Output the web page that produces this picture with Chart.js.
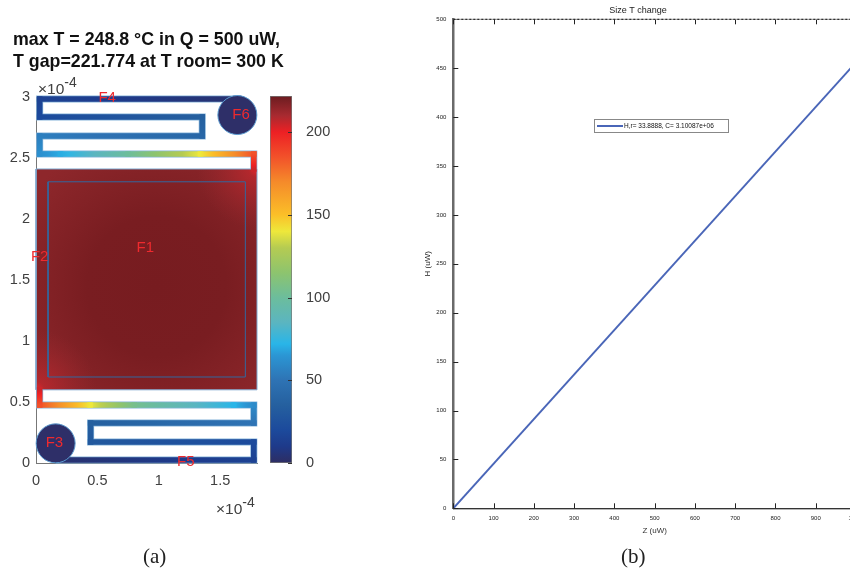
<!DOCTYPE html>
<html>
<head>
<meta charset="utf-8">
<script src="https://cdn.jsdelivr.net/npm/chart.js@4"></script>
<style>
html, body { margin: 0; padding: 0; background: #fff; width: 850px; height: 576px; overflow: hidden; }
canvas { position: absolute; display: block; }
.txt { position: absolute; white-space: nowrap; }
.head { font: bold 17.8px "Liberation Sans"; color: #111; left: 13px; filter: blur(0.3px); }
.mult { font: 15.5px "Liberation Sans"; color: #404040; filter: blur(0.3px); }
.mult sup { font-size: 14px; position: relative; vertical-align: baseline; top: -7px; }
.cap { font: 21px "Liberation Serif"; color: #222; filter: blur(0.3px); }
#fitBox { position: absolute; left: 594px; top: 119px; width: 133px; height: 12px; border: 1.5px dashed #111; outline: 1px solid #888; outline-offset: -1px; background: #fff; filter: blur(0.5px); }
#fitBox i { position: absolute; left: 2px; top: 5px; width: 26px; height: 2px; background: #4a66b8; }
#fitBox span { position: absolute; left: 29px; top: 2px; font: 6.5px "Liberation Sans"; color: #111; white-space: nowrap; }
</style>
</head>
<body>
<div class="txt head" style="top:29px">max T = 248.8 °C in Q = 500 uW,</div>
<div class="txt head" style="top:51px">T gap=221.774 at T room= 300 K</div>

<canvas id="mapChart" style="left:0;top:0;filter:blur(0.35px)" width="265" height="500"></canvas>
<canvas id="barChart" style="left:262px;top:0;filter:blur(0.35px)" width="70" height="480"></canvas>
<canvas id="fitChart" style="left:420px;top:0;filter:blur(0.6px)" width="440" height="536"></canvas>

<div class="txt mult" style="left:38px;top:80px">×10<sup>-4</sup></div>
<div class="txt mult" style="left:216px;top:500px">×10<sup>-4</sup></div>
<div id="fitBox"><i></i><span>H,r= 33.8888, C= 3.10087e+06</span></div>
<div class="txt cap" style="left:143px;top:544px">(a)</div>
<div class="txt cap" style="left:621px;top:544px">(b)</div>

<script>
// Left panel: serpentine heater, x and y in units of 1e-4
var mapXTicks = [0, 0.5, 1, 1.5];
var mapYTicks = [0, 0.5, 1, 1.5, 2, 2.5, 3];

var upperX = [1.67, 0.03, 0.03, 1.354, 1.354, 0.03, 0.03, 0.2, 0.75, 1.34, 1.774, 1.774];
var upperY = [2.984, 2.984, 2.836, 2.836, 2.68, 2.68, 2.533, 2.533, 2.533, 2.533, 2.533, 2.41];
var upperT = [3, 15, 20, 35, 40, 55, 62, 70, 100, 140, 185, 205];

var lowerX = [0.16, 1.774, 1.774, 0.445, 0.445, 1.774, 1.774, 1.61, 0.8, 0.44, 0.03, 0.03];
var lowerY = [0.025, 0.025, 0.172, 0.172, 0.328, 0.328, 0.475, 0.475, 0.475, 0.475, 0.475, 0.6];
var lowerT = [3, 15, 20, 30, 35, 50, 60, 72, 105, 140, 185, 205];

var padX = [0, 1.8];
var padTop = [2.41, 2.41];
var padBottom = 0.6;
var padOutlineX = [0, 1.8, 1.8, 0, 0];
var padOutlineY = [0.6, 0.6, 2.41, 2.41, 0.6];
var innerX = [0.098, 1.705, 1.705, 0.098, 0.098];
var innerY = [0.705, 0.705, 2.305, 2.305, 0.705];

var contactX = [0.16, 1.64];
var contactY = [0.161, 2.852];

var faceNames = ['F1', 'F2', 'F3', 'F4', 'F5', 'F6'];
var faceX = [0.89, 0.03, 0.15, 0.58, 1.22, 1.67];
var faceY = [1.76, 1.69, 0.164, 2.99, 0.01, 2.852];

// Colorbar
var barTicks = [0, 50, 100, 150, 200];
var barRange = [0, 221.8];
var colorTemps = [0, 10, 20, 35, 50, 65, 72, 85, 100, 115, 130, 140, 150, 170, 185, 200, 210, 221.8];
var colorValues = ['#2e2d62', '#1e3a8a', '#1c4a9c', '#25609f', '#2e73b4', '#2b96d4', '#29b5e8', '#5bb5c0', '#6cbd9c', '#8dc46e', '#b5cb52', '#eee83b', '#fbbf28', '#f58a2a', '#f2512a', '#ed2024', '#a82a30', '#6b1c20'];

// Right panel
var fitXTicks = [0, 100, 200, 300, 400, 500, 600, 700, 800, 900, 1000];
var fitYTicks = [0, 50, 100, 150, 200, 250, 300, 350, 400, 450, 500];
var fitX = [0, 1000];
var fitY = [0, 456];

function points(xs, ys) {
    return xs.map(function (x, i) { return { x: x, y: ys[i] }; });
}

function hexToRgb(hex) {
    return [1, 3, 5].map(function (i) { return parseInt(hex.substr(i, 2), 16); });
}

function tempColor(t) {
    for (var i = 1; i < colorTemps.length; i++) {
        if (t <= colorTemps[i]) {
            var f = (t - colorTemps[i - 1]) / (colorTemps[i] - colorTemps[i - 1]);
            var a = hexToRgb(colorValues[i - 1]);
            var b = hexToRgb(colorValues[i]);
            return 'rgb(' + a.map(function (v, k) { return Math.round(v + (b[k] - v) * f); }).join(',') + ')';
        }
    }
    return colorValues[colorValues.length - 1];
}

// gradient along one piece of the trace, from temperature at p0 to temperature at p1
function traceSegment(temps) {
    return function (ctx) {
        var g = ctx.chart.ctx.createLinearGradient(ctx.p0.x, ctx.p0.y, ctx.p1.x, ctx.p1.y);
        var t0 = temps[ctx.p0DataIndex];
        var t1 = temps[ctx.p1DataIndex];
        for (var s = 0; s <= 8; s++) {
            g.addColorStop(s / 8, tempColor(t0 + (t1 - t0) * s / 8));
        }
        return g;
    };
}

function radial(x, y, radius, stops) {
    return function (ctx) {
        var chart = ctx.chart;
        if (!chart.chartArea) return 'transparent';
        var cx = chart.scales.x.getPixelForValue(x);
        var cy = chart.scales.y.getPixelForValue(y);
        var g = chart.ctx.createRadialGradient(cx, cy, 0, cx, cy, radius);
        stops.forEach(function (s) { g.addColorStop(s[0], s[1]); });
        return g;
    };
}

function padLayer(color, order) {
    return {
        data: points(padX, padTop),
        showLine: true,
        borderWidth: 0,
        pointRadius: 0,
        fill: { value: padBottom },
        backgroundColor: color,
        order: order
    };
}

function outline(xs, ys, color, width, order) {
    return {
        data: points(xs, ys),
        showLine: true,
        borderColor: color,
        borderWidth: width,
        pointRadius: 0,
        fill: false,
        clip: false,
        order: order
    };
}

function trace(xs, ys, temps, order) {
    return {
        data: points(xs, ys),
        showLine: true,
        borderWidth: 5.6,
        borderCapStyle: 'square',
        pointRadius: 0,
        fill: false,
        clip: false,
        order: order,
        segment: { borderColor: traceSegment(temps) }
    };
}

function fixedTicks(values) {
    return function (scale) {
        scale.ticks = values.map(function (v) { return { value: v }; });
    };
}

// keep the plot area where it was asked for, tick labels may hang over
function noMargins(scale) {
    scale.paddingLeft = scale.paddingRight = scale.paddingTop = scale.paddingBottom = 0;
}

var faceLabels = {
    id: 'faceLabels',
    afterDraw: function (chart) {
        var c = chart.ctx;
        c.save();
        c.font = '15px "Liberation Sans"';
        c.fillStyle = '#ee2a2e';
        c.textAlign = 'center';
        c.textBaseline = 'middle';
        faceNames.forEach(function (name, i) {
            c.fillText(name, chart.scales.x.getPixelForValue(faceX[i]), chart.scales.y.getPixelForValue(faceY[i]));
        });
        c.restore();
    }
};

// ticks that point into the plot, MATLAB style
var innerTicks = {
    id: 'innerTicks',
    beforeDatasetsDraw: function (chart, args, opts) {
        if (!opts.topFrame) return;
        var c = chart.ctx;
        var a = chart.chartArea;
        c.save();
        c.lineWidth = 1;
        c.strokeStyle = '#c4c4c4';
        c.beginPath();
        c.moveTo(a.left, a.bottom + 1);
        c.lineTo(a.right, a.bottom + 1);
        c.stroke();
        c.restore();
    },
    afterDatasetsDraw: function (chart, args, opts) {
        var c = chart.ctx;
        var a = chart.chartArea;
        c.save();
        c.strokeStyle = opts.color;
        c.lineWidth = 1;
        c.beginPath();
        (opts.ySides || []).forEach(function (side) {
            chart.scales.y.ticks.forEach(function (t) {
                var py = Math.round(chart.scales.y.getPixelForValue(t.value)) + 0.5;
                var edge = side === 'left' ? a.left : a.right;
                c.moveTo(edge, py);
                c.lineTo(side === 'left' ? edge + opts.size : edge - opts.size, py);
            });
        });
        (opts.xSides || []).forEach(function (side) {
            chart.scales.x.ticks.forEach(function (t) {
                var px = Math.round(chart.scales.x.getPixelForValue(t.value)) + 0.5;
                var edge = side === 'top' ? a.top : a.bottom;
                c.moveTo(px, edge);
                c.lineTo(px, side === 'top' ? edge + opts.size : edge - opts.size);
            });
        });
        c.stroke();
        if (opts.topFrame) {
            c.beginPath();
            c.strokeStyle = '#999';
            c.moveTo(a.left, a.top);
            c.lineTo(a.right, a.top);
            c.stroke();
            c.beginPath();
            c.strokeStyle = '#111';
            c.setLineDash([2, 2]);
            c.moveTo(a.left, a.top);
            c.lineTo(a.right, a.top);
            c.stroke();
        }
        c.restore();
    }
};

var tickFont = { family: '"Liberation Sans"', size: 14.5 };

var mapChart = new Chart(document.getElementById('mapChart').getContext('2d'), {
    type: 'scatter',
    data: {
        datasets: [
            padLayer(radial(0.98, 1.45, 155, [[0, '#771c20'], [0.45, '#791d21'], [1, '#8e272b']]), 12),
            padLayer(radial(1.8, 2.41, 60, [[0, 'rgba(238,35,40,1)'], [0.14, 'rgba(195,40,46,0.7)'], [1, 'rgba(160,42,48,0)']]), 11),
            padLayer(radial(0, 0.6, 60, [[0, 'rgba(238,35,40,1)'], [0.14, 'rgba(195,40,46,0.7)'], [1, 'rgba(160,42,48,0)']]), 10),
            outline(padOutlineX, padOutlineY, '#7fa9d0', 1, 9),
            outline(innerX, innerY, '#33689f', 1, 8),
            outline(upperX, upperY, '#86b4da', 7, 7),
            outline(lowerX, lowerY, '#86b4da', 7, 6),
            trace(upperX, upperY, upperT, 5),
            trace(lowerX, lowerY, lowerT, 4),
            {
                data: points(contactX, contactY),
                pointRadius: 19.5,
                pointBackgroundColor: '#2e2f68',
                pointBorderColor: '#5b9bd0',
                pointBorderWidth: 1,
                clip: false,
                order: 1
            }
        ]
    },
    options: {
        responsive: false,
        animation: false,
        layout: { autoPadding: false, padding: { top: 97, right: 8, left: 0, bottom: 0 } },
        plugins: { legend: { display: false }, tooltip: { enabled: false } },
        scales: {
            x: {
                type: 'linear', min: 0, max: 1.8,
                grid: { drawOnChartArea: false, drawTicks: false },
                border: { color: '#777' },
                afterBuildTicks: fixedTicks(mapXTicks),
                afterFit: function (s) { s.height = 37; noMargins(s); },
                ticks: { color: '#404040', font: tickFont, padding: 9, maxRotation: 0, callback: function (v) { return String(v); } }
            },
            y: {
                type: 'linear', min: 0, max: 3,
                grid: { drawOnChartArea: false, drawTicks: false },
                border: { color: '#777' },
                afterBuildTicks: fixedTicks(mapYTicks),
                afterFit: function (s) { s.width = 36; noMargins(s); },
                ticks: { color: '#404040', font: tickFont, padding: 6, callback: function (v) { return String(v); } }
            }
        }
    },
    plugins: [faceLabels]
});

var barChart = new Chart(document.getElementById('barChart').getContext('2d'), {
    type: 'bar',
    data: {
        labels: ['T'],
        datasets: [{
            data: [barRange],
            categoryPercentage: 1,
            barPercentage: 1,
            borderColor: '#777',
            borderWidth: 1,
            borderSkipped: false,
            backgroundColor: function (ctx) {
                var chart = ctx.chart;
                if (!chart.chartArea) return '#fff';
                var y = chart.scales.y;
                var g = chart.ctx.createLinearGradient(0, y.getPixelForValue(0), 0, y.getPixelForValue(barRange[1]));
                colorTemps.forEach(function (t, i) {
                    g.addColorStop(t / barRange[1], colorValues[i]);
                });
                return g;
            }
        }]
    },
    options: {
        responsive: false,
        animation: false,
        layout: { padding: { top: 96, left: 8, right: 0, bottom: 17 } },
        plugins: {
            legend: { display: false },
            tooltip: { enabled: false },
            innerTicks: { color: '#333', size: 4, ySides: ['right'] }
        },
        scales: {
            x: { display: false },
            y: {
                position: 'right',
                min: barRange[0], max: barRange[1],
                grid: { display: false },
                border: { display: false },
                afterBuildTicks: fixedTicks(barTicks),
                afterFit: function (s) { s.width = 40; noMargins(s); },
                ticks: { color: '#404040', font: tickFont, padding: 6 }
            }
        }
    },
    plugins: [innerTicks]
});

var smallFont = { family: '"Liberation Sans"', size: 6 };
var axisTitleFont = { family: '"Liberation Sans"', size: 8 };

var fitChart = new Chart(document.getElementById('fitChart').getContext('2d'), {
    type: 'scatter',
    data: {
        datasets: [{
            data: points(fitX, fitY),
            showLine: true,
            borderColor: '#4a66b8',
            borderWidth: 2,
            pointRadius: 0,
            fill: false
        }]
    },
    options: {
        responsive: false,
        animation: false,
        layout: { padding: { right: 4 } },
        plugins: {
            legend: { display: false },
            tooltip: { enabled: false },
            title: {
                display: true,
                text: 'Size T change',
                color: '#222',
                font: { family: '"Liberation Sans"', size: 9, weight: 'normal', lineHeight: 1.2 },
                padding: { top: 5.5, bottom: 3 }
            },
            innerTicks: { color: '#222', size: 5, ySides: ['left', 'right'], xSides: ['top', 'bottom'], topFrame: true }
        },
        scales: {
            x: {
                type: 'linear', min: 0, max: 1000,
                grid: { drawOnChartArea: false, drawTicks: false },
                border: { color: '#111', width: 1.5, dash: [2, 2] },
                afterBuildTicks: fixedTicks(fitXTicks),
                afterFit: function (s) { s.height = 27.7; noMargins(s); },
                title: { display: true, text: 'Z (uW)', color: '#333', font: axisTitleFont, padding: { top: 2, bottom: 0 } },
                ticks: { color: '#222', font: smallFont, padding: 6, maxRotation: 0 }
            },
            y: {
                type: 'linear', min: 0, max: 500,
                grid: { drawOnChartArea: false, drawTicks: false },
                border: { color: '#6a6a6a', width: 2.5 },
                afterBuildTicks: fixedTicks(fitYTicks),
                afterFit: function (s) { s.width = 33.3; noMargins(s); },
                title: { display: true, text: 'H (uW)', color: '#222', font: axisTitleFont, padding: { top: 3, bottom: 2 } },
                ticks: { color: '#222', font: smallFont, padding: 7 }
            }
        }
    },
    plugins: [innerTicks]
});
</script>
</body>
</html>
